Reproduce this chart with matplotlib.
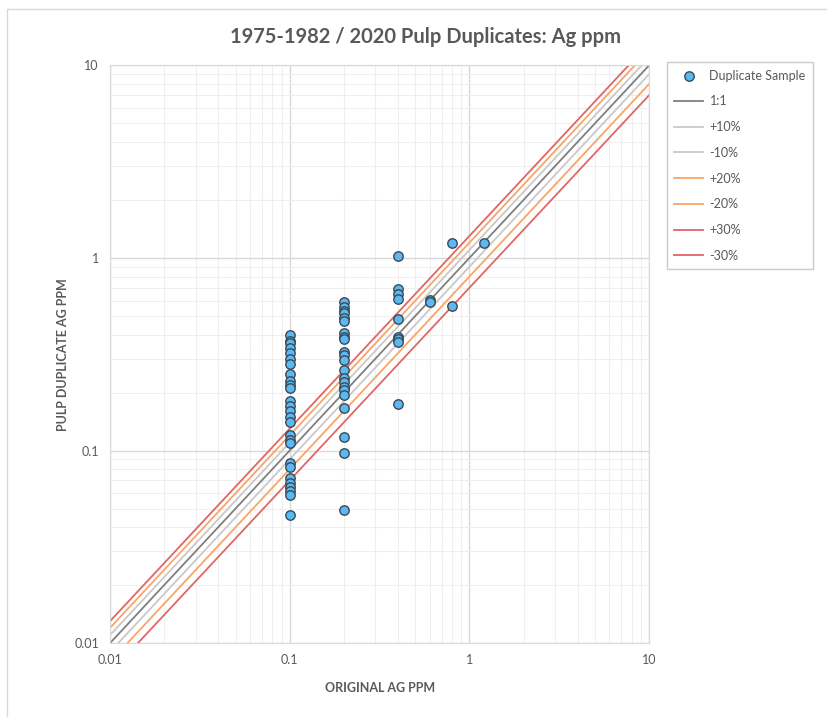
import matplotlib
matplotlib.use('Agg')
import matplotlib.pyplot as plt
from matplotlib.patches import Rectangle
from matplotlib.ticker import LogLocator, FixedLocator, FixedFormatter
import numpy as np

plt.rcParams['font.family'] = ['Lato', 'DejaVu Sans']

# original (x) and pulp duplicate (y) Ag ppm
orig_ag = [0.1] * 27 + [0.2] * 22 + [0.4] * 9 + [0.6, 0.6, 0.8, 0.8, 1.2]
dup_ag = [0.40, 0.37, 0.36, 0.34, 0.32, 0.30, 0.28, 0.25, 0.23, 0.22, 0.21,
          0.18, 0.17, 0.16, 0.15, 0.14, 0.12, 0.113, 0.109, 0.086, 0.082,
          0.072, 0.068, 0.065, 0.062, 0.059, 0.046,
          0.59, 0.555, 0.53, 0.515, 0.49, 0.47, 0.405, 0.39, 0.377, 0.325,
          0.313, 0.295, 0.261, 0.237, 0.227, 0.214, 0.206, 0.194, 0.167,
          0.118, 0.097, 0.049,
          1.02, 0.69, 0.65, 0.61, 0.48, 0.39, 0.377, 0.364, 0.174,
          0.606, 0.591, 1.19, 0.564, 1.2]

line_names = ['1:1', '+10%', '-10%', '+20%', '-20%', '+30%', '-30%']
line_factors = [1.0, 1.1, 0.9, 1.2, 0.8, 1.3, 0.7]
line_colors = ['#7f7f7f', '#c9c9c9', '#c9c9c9', '#f8a567', '#f8a567', '#e06666', '#e06666']

axis_min, axis_max = 0.01, 10
tick_vals = [0.01, 0.1, 1, 10]
tick_labels = ['0.01', '0.1', '1', '10']

fig = plt.figure(figsize=(8.27, 7.17), dpi=100)
fig.patches.append(Rectangle((0.009, -0.01), 1.0, 0.998, transform=fig.transFigure,
                             fill=False, edgecolor='#d9d9d9', lw=1))
ax = fig.add_axes([0.133, 0.103, 0.652, 0.806])

xs = np.array([axis_min, axis_max])
handles = []
for name, k, c in zip(line_names, line_factors, line_colors):
    h, = ax.plot(xs, k * xs, color=c, lw=1.3, label=name, zorder=2)
    handles.append(h)

pts = ax.scatter(orig_ag, dup_ag, s=46, facecolor='#5bb8f0', edgecolor='#3a4a55',
                 linewidths=1.0, zorder=3, label='Duplicate Sample')

ax.set_xscale('log')
ax.set_yscale('log')
ax.set_xlim(axis_min, axis_max)
ax.set_ylim(axis_min, axis_max)

for axis in (ax.xaxis, ax.yaxis):
    axis.set_major_locator(FixedLocator(tick_vals))
    axis.set_major_formatter(FixedFormatter(tick_labels))
    axis.set_minor_locator(LogLocator(base=10, subs=np.arange(2, 10)))
ax.grid(True, which='major', color='#d9d9d9', lw=1)
ax.grid(True, which='minor', color='#efefef', lw=0.8)
ax.set_axisbelow(True)
ax.tick_params(which='both', length=0, labelsize=9, colors='#595959', pad=8)
for s in ax.spines.values():
    s.set_color('#d9d9d9')

ax.set_xlabel('ORIGINAL AG PPM', fontsize=9, fontweight='bold', color='#595959', labelpad=11)
ax.set_ylabel('PULP DUPLICATE AG PPM', fontsize=9, fontweight='bold', color='#595959', labelpad=4)
fig.text(0.515, 0.948, '1975-1982 / 2020 Pulp Duplicates: Ag ppm', ha='center', va='center',
         fontsize=14.5, fontweight='bold', color='#595959')

leg = fig.legend([pts] + handles, ['Duplicate Sample'] + line_names,
                 loc='upper left', bbox_to_anchor=(0.8065, 0.9135), borderaxespad=0,
                 fontsize=9, frameon=True, fancybox=False, edgecolor='#bfbfbf',
                 labelspacing=1.1, handlelength=2.3, handletextpad=0.5, borderpad=0.6)
for t in leg.get_texts():
    t.set_color('#595959')

fig.savefig('out.png', dpi=100)
